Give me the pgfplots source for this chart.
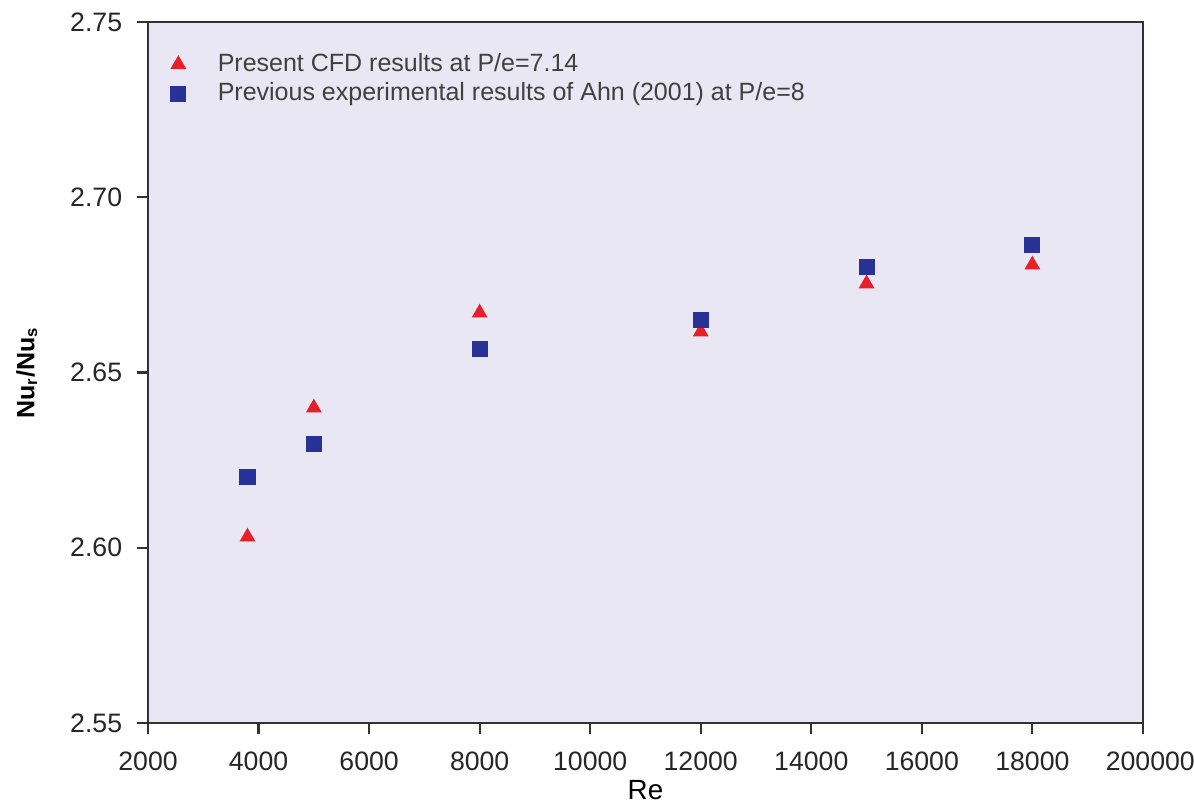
\documentclass[border=0pt]{standalone}
\usepackage{pgfplots}
\pgfplotsset{compat=1.18}
\usepackage{fontspec}
\setmainfont{Liberation Sans}
\definecolor{bgc}{RGB}{233,231,243}
\definecolor{redm}{RGB}{232,30,40}
\definecolor{bluem}{RGB}{40,50,150}
\definecolor{axc}{RGB}{50,50,50}
\begin{document}
\begin{tikzpicture}
\begin{axis}[
  name=ax,
  scale only axis,
  width=358.2pt, height=252.4pt,
  xmin=2000, xmax=20000, ymin=2.55, ymax=2.75,
  xtick={2000,4000,6000,8000,10000,12000,14000,16000,18000,20000},
  xticklabels={2000,4000,6000,8000,10000,12000,14000,16000,18000,{20000\rlap{0}}},
  ytick={2.55,2.60,2.65,2.70,2.75},
  yticklabel style={xshift=-1.8pt, /pgf/number format/.cd,fixed,fixed zerofill,precision=2},
  /pgf/number format/assume math mode=true,
  scaled x ticks=false,
  xticklabel style={yshift=-3pt},
  axis line style={axc, line width=1pt},
  tick style={axc, line width=0.8pt},
  tick align=outside,
  major tick length=4pt,
  xtick pos=bottom, ytick pos=left,
  axis background/.style={fill=bgc},
  tick label style={font=\fontsize{9.6}{11.5}\selectfont, text=black!85},
  xlabel={Re}, ylabel={\textbf{Nu\textsubscript{r}/Nu\textsubscript{s}}},
  xlabel style={font=\fontsize{10}{12}\selectfont, yshift=3.5pt},
  ylabel style={font=\fontsize{9}{11}\selectfont, yshift=5pt},
  legend style={at={(0.014,0.972)}, anchor=north west, draw=none, fill=none,
    font=\fontsize{9}{10.8}\selectfont, text=black!75, row sep=-1.5pt},
  legend cell align=left,
]
\addplot[only marks, mark=triangle*, mark size=2.9pt, color=redm] coordinates {
  (3800,2.6031) (5000,2.6399) (8000,2.6670) (12000,2.6616) (15000,2.6753) (18000,2.6807)
};
\addlegendentry{\hspace{9.5pt}Present CFD results at P/e=7.14}
\addplot[only marks, mark=square*, mark size=2.7pt, color=bluem] coordinates {
  (3800,2.6202) (5000,2.6296) (8000,2.6567) (12000,2.6650) (15000,2.6801) (18000,2.6864)
};
\addlegendentry{\hspace{9.5pt}Previous experimental results of Ahn (2001) at P/e=8}
\end{axis}
\pgfresetboundingbox
\path[use as bounding box] ([shift={(-53.3pt,-31.7pt)}]ax.south west) rectangle ([shift={(18.4pt,7.9pt)}]ax.north east);
\end{tikzpicture}
\end{document}
